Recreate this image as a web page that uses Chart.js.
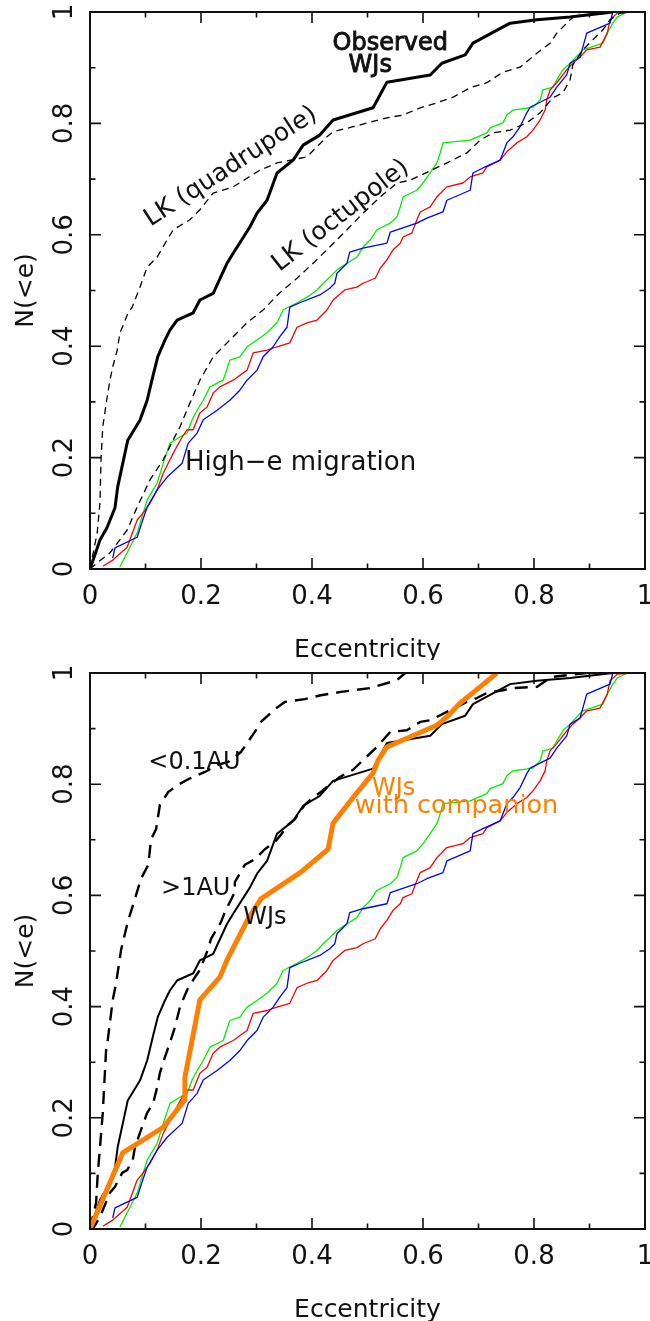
<!DOCTYPE html>
<html>
<head>
<meta charset="utf-8">
<script src="https://cdn.jsdelivr.net/npm/chart.js@4.4.0/dist/chart.umd.min.js"></script>
<style>
  html, body { margin: 0; padding: 0; background: #fff; }
  #wrap { position: relative; width: 650px; height: 1321px; overflow: hidden; }
  canvas { position: absolute; left: 0; }
</style>
</head>
<body>
<div id="wrap">
  <canvas id="topChart" width="650" height="660" style="top:0px"></canvas>
  <canvas id="bottomChart" width="650" height="661" style="top:660px"></canvas>
</div>
<script>
// ticks
const tickValues = [0, 0.1, 0.2, 0.3, 0.4, 0.5, 0.6, 0.7, 0.8, 0.9, 1];
const majorValues = [0, 0.2, 0.4, 0.6, 0.8, 1];
const tickLabels = ['0', '0.2', '0.4', '0.6', '0.8', '1'];
const xTitle = 'Eccentricity';
const yTitle = 'N(<e)';

// cumulative distributions [e, N(<e)]
const observedWJs = [[0,0],[0.018,0.052],[0.031,0.075],[0.045,0.11],[0.05,0.148],[0.063,0.208],[0.068,0.231],[0.09,0.267],[0.103,0.303],[0.113,0.345],[0.122,0.381],[0.135,0.411],[0.144,0.429],[0.157,0.447],[0.186,0.46],[0.198,0.483],[0.222,0.495],[0.247,0.549],[0.258,0.567],[0.288,0.614],[0.301,0.639],[0.319,0.662],[0.337,0.711],[0.366,0.734],[0.384,0.761],[0.414,0.779],[0.438,0.806],[0.51,0.828],[0.535,0.874],[0.613,0.887],[0.634,0.908],[0.676,0.923],[0.69,0.944],[0.757,0.98],[0.805,0.986],[0.865,0.991],[0.942,1.0]];

const lkQuadrupole = [[0,0],[0.013,0.065],[0.018,0.12],[0.02,0.2],[0.023,0.255],[0.03,0.303],[0.036,0.339],[0.041,0.363],[0.049,0.393],[0.054,0.424],[0.068,0.458],[0.076,0.47],[0.09,0.506],[0.103,0.542],[0.121,0.56],[0.139,0.591],[0.15,0.609],[0.18,0.627],[0.198,0.645],[0.222,0.675],[0.258,0.686],[0.306,0.716],[0.337,0.729],[0.391,0.74],[0.427,0.776],[0.438,0.785],[0.474,0.794],[0.535,0.81],[0.564,0.815],[0.595,0.828],[0.625,0.837],[0.654,0.847],[0.685,0.864],[0.715,0.873],[0.744,0.892],[0.775,0.901],[0.805,0.926],[0.829,0.944],[0.841,0.962],[0.865,0.986],[0.883,1.0]];

const lkOctupole = [[0,0],[0.014,0.012],[0.036,0.029],[0.067,0.07],[0.085,0.111],[0.108,0.16],[0.132,0.196],[0.15,0.232],[0.162,0.255],[0.18,0.298],[0.198,0.339],[0.222,0.381],[0.247,0.406],[0.27,0.429],[0.283,0.442],[0.312,0.465],[0.342,0.496],[0.373,0.522],[0.402,0.549],[0.432,0.578],[0.463,0.609],[0.492,0.639],[0.523,0.668],[0.553,0.693],[0.577,0.698],[0.613,0.715],[0.643,0.729],[0.679,0.747],[0.703,0.77],[0.726,0.783],[0.757,0.788],[0.787,0.801],[0.811,0.819],[0.834,0.846],[0.852,0.855],[0.865,0.878],[0.87,0.905],[0.888,0.932],[0.906,0.95],[0.924,0.968],[0.937,0.986],[0.955,0.998],[0.98,1.0]];

const highEGreen = [[0.054,0.004],[0.072,0.039],[0.085,0.065],[0.103,0.124],[0.121,0.154],[0.132,0.19],[0.144,0.226],[0.162,0.237],[0.175,0.244],[0.184,0.268],[0.193,0.285],[0.204,0.303],[0.216,0.327],[0.24,0.339],[0.252,0.375],[0.27,0.381],[0.283,0.399],[0.301,0.411],[0.319,0.424],[0.337,0.442],[0.348,0.465],[0.373,0.478],[0.391,0.488],[0.409,0.501],[0.42,0.513],[0.432,0.524],[0.445,0.537],[0.463,0.549],[0.481,0.56],[0.492,0.578],[0.505,0.591],[0.517,0.609],[0.541,0.621],[0.553,0.632],[0.559,0.65],[0.564,0.668],[0.589,0.68],[0.6,0.693],[0.613,0.711],[0.625,0.729],[0.631,0.747],[0.636,0.765],[0.685,0.77],[0.715,0.783],[0.721,0.792],[0.744,0.801],[0.751,0.815],[0.762,0.824],[0.798,0.829],[0.811,0.842],[0.816,0.86],[0.834,0.865],[0.841,0.878],[0.852,0.896],[0.865,0.908],[0.888,0.932],[0.924,0.944],[0.932,0.962],[0.942,0.98],[0.95,0.991],[0.968,1.0]];

const highERed = [[0.023,0.005],[0.041,0.016],[0.067,0.039],[0.085,0.088],[0.095,0.1],[0.108,0.118],[0.121,0.142],[0.132,0.172],[0.15,0.208],[0.166,0.237],[0.175,0.25],[0.186,0.25],[0.198,0.28],[0.211,0.291],[0.222,0.316],[0.234,0.327],[0.258,0.339],[0.283,0.357],[0.294,0.388],[0.319,0.393],[0.337,0.399],[0.36,0.406],[0.373,0.434],[0.391,0.442],[0.409,0.447],[0.427,0.465],[0.438,0.483],[0.459,0.501],[0.481,0.506],[0.492,0.513],[0.514,0.522],[0.523,0.54],[0.535,0.555],[0.546,0.573],[0.559,0.585],[0.564,0.596],[0.58,0.603],[0.589,0.627],[0.595,0.641],[0.613,0.65],[0.625,0.668],[0.643,0.686],[0.672,0.693],[0.685,0.704],[0.708,0.711],[0.715,0.722],[0.739,0.734],[0.751,0.749],[0.769,0.765],[0.787,0.776],[0.798,0.788],[0.811,0.806],[0.82,0.824],[0.823,0.842],[0.829,0.86],[0.841,0.873],[0.859,0.896],[0.87,0.908],[0.883,0.919],[0.895,0.932],[0.919,0.937],[0.932,0.962],[0.937,0.986],[0.95,0.998],[0.978,1.0]];

const highEBlue = [[0.041,0.02],[0.045,0.038],[0.085,0.057],[0.095,0.088],[0.103,0.111],[0.121,0.142],[0.139,0.165],[0.166,0.19],[0.177,0.226],[0.193,0.244],[0.204,0.268],[0.229,0.285],[0.252,0.303],[0.27,0.321],[0.283,0.339],[0.301,0.357],[0.312,0.381],[0.33,0.399],[0.342,0.417],[0.355,0.434],[0.36,0.47],[0.378,0.478],[0.414,0.492],[0.432,0.504],[0.441,0.513],[0.445,0.531],[0.463,0.549],[0.468,0.569],[0.492,0.576],[0.535,0.585],[0.541,0.605],[0.589,0.621],[0.607,0.63],[0.636,0.641],[0.643,0.662],[0.685,0.68],[0.69,0.711],[0.708,0.72],[0.739,0.734],[0.751,0.765],[0.762,0.776],[0.775,0.794],[0.787,0.819],[0.793,0.829],[0.829,0.847],[0.841,0.865],[0.859,0.887],[0.865,0.908],[0.883,0.919],[0.895,0.962],[0.937,0.98],[0.942,1.0]];

const inner01AU = [[0,0],[0.011,0.047],[0.014,0.1],[0.018,0.147],[0.023,0.209],[0.029,0.322],[0.032,0.34],[0.041,0.412],[0.047,0.442],[0.056,0.502],[0.068,0.552],[0.081,0.594],[0.092,0.63],[0.105,0.655],[0.11,0.701],[0.119,0.719],[0.126,0.763],[0.141,0.786],[0.159,0.799],[0.177,0.809],[0.207,0.822],[0.231,0.835],[0.249,0.84],[0.272,0.858],[0.297,0.894],[0.308,0.912],[0.333,0.935],[0.351,0.948],[0.387,0.953],[0.416,0.96],[0.452,0.966],[0.505,0.973],[0.553,0.987],[0.568,1.0]];

const outer1AU = [[0,0],[0.005,0],[0.018,0.022],[0.036,0.065],[0.045,0.076],[0.058,0.101],[0.067,0.106],[0.077,0.124],[0.081,0.147],[0.09,0.173],[0.103,0.209],[0.114,0.227],[0.121,0.255],[0.126,0.281],[0.135,0.309],[0.144,0.335],[0.153,0.363],[0.162,0.399],[0.175,0.43],[0.186,0.448],[0.198,0.466],[0.213,0.504],[0.218,0.522],[0.236,0.552],[0.243,0.57],[0.261,0.606],[0.261,0.624],[0.279,0.655],[0.297,0.665],[0.315,0.683],[0.333,0.696],[0.344,0.709],[0.357,0.727],[0.369,0.737],[0.387,0.763],[0.398,0.773],[0.416,0.786],[0.427,0.795],[0.45,0.813],[0.474,0.826],[0.517,0.867],[0.541,0.894],[0.571,0.897],[0.595,0.912],[0.613,0.915],[0.643,0.93],[0.661,0.939],[0.679,0.948],[0.697,0.955],[0.715,0.964],[0.744,0.969],[0.762,0.973],[0.805,0.975],[0.823,0.987],[0.834,0.993],[0.895,1.0]];

const withCompanion = [[0,0],[0.059,0.137],[0.132,0.183],[0.171,0.232],[0.171,0.273],[0.198,0.412],[0.234,0.453],[0.247,0.484],[0.285,0.558],[0.308,0.594],[0.38,0.642],[0.429,0.683],[0.438,0.73],[0.474,0.776],[0.51,0.82],[0.519,0.843],[0.535,0.867],[0.625,0.906],[0.643,0.921],[0.667,0.946],[0.703,0.975],[0.733,1.0]];

const FONT = '"DejaVu Sans", sans-serif';
const ORANGE = '#ff8000';

function series(points, color, width, dash) {
    return {
        data: points.map(p => ({ x: p[0], y: p[1] })),
        borderColor: color,
        borderWidth: width,
        borderDash: dash || [],
        borderJoinStyle: 'round',
        pointRadius: 0,
        tension: 0,
        fill: false
    };
}

// frame, inward ticks, tick labels, titles and the text notes
const framePlugin = {
    id: 'frame',
    afterDatasetsDraw(chart, args, opts) {
        const { ctx, chartArea: a, scales: { x, y } } = chart;
        ctx.save();
        ctx.strokeStyle = '#111';
        ctx.lineWidth = 2;
        ctx.strokeRect(a.left, a.top, a.right - a.left, a.bottom - a.top);

        ctx.lineWidth = 1.6;
        ctx.beginPath();
        tickValues.forEach(v => {
            const len = majorValues.includes(v) ? 11 : 5.5;
            const px = x.getPixelForValue(v);
            const py = y.getPixelForValue(v);
            ctx.moveTo(px, a.bottom); ctx.lineTo(px, a.bottom - len);
            ctx.moveTo(px, a.top); ctx.lineTo(px, a.top + len);
            ctx.moveTo(a.left, py); ctx.lineTo(a.left + len, py);
            ctx.moveTo(a.right, py); ctx.lineTo(a.right - len, py);
        });
        ctx.stroke();

        ctx.fillStyle = '#111';
        ctx.font = '26px ' + FONT;
        ctx.textAlign = 'center';
        ctx.textBaseline = 'alphabetic';
        majorValues.forEach((v, i) => {
            ctx.fillText(tickLabels[i], x.getPixelForValue(v), a.bottom + 35);
            ctx.save();
            ctx.translate(a.left - 18, y.getPixelForValue(v));
            ctx.rotate(-Math.PI / 2);
            ctx.fillText(tickLabels[i], 0, 0);
            ctx.restore();
        });

        ctx.font = '25px ' + FONT;
        ctx.fillText(xTitle, (a.left + a.right) / 2, a.bottom + 88);
        ctx.save();
        ctx.translate(33, (a.top + a.bottom) / 2);
        ctx.rotate(-Math.PI / 2);
        ctx.fillText(yTitle, 0, 0);
        ctx.restore();

        (opts.notes || []).forEach(n => {
            ctx.save();
            ctx.translate(x.getPixelForValue(n.e), y.getPixelForValue(n.n));
            ctx.rotate((n.rot || 0) * Math.PI / 180);
            ctx.font = (n.size || 24) + 'px ' + FONT;
            ctx.fillStyle = n.color || '#111';
            ctx.textAlign = n.align || 'left';
            ctx.textBaseline = n.rot ? 'middle' : 'alphabetic';
            ctx.fillText(n.text, 0, 0);
            if (n.heavy) {
                ctx.strokeStyle = ctx.fillStyle;
                ctx.lineWidth = 0.9;
                ctx.strokeText(n.text, 0, 0);
            }
            ctx.restore();
        });
        ctx.restore();
    }
};

function makeChart(id, datasets, notes, pad) {
    return new Chart(document.getElementById(id), {
        type: 'line',
        data: { datasets: datasets },
        options: {
            responsive: false,
            animation: false,
            devicePixelRatio: 1,
            layout: { padding: pad },
            plugins: {
                legend: { display: false },
                tooltip: { enabled: false },
                frame: { notes: notes }
            },
            scales: {
                x: { type: 'linear', min: 0, max: 1, display: false },
                y: { type: 'linear', min: 0, max: 1, display: false }
            }
        },
        plugins: [framePlugin]
    });
}

makeChart('topChart', [
    series(observedWJs, '#000', 3),
    series(lkQuadrupole, '#000', 1.3, [7, 5]),
    series(lkOctupole, '#000', 1.3, [7, 5]),
    series(highEBlue, '#0000ff', 1.3),
    series(highERed, '#ff0000', 1.3),
    series(highEGreen, '#00f000', 1.3)
], [
    { text: 'Observed', e: 0.541, n: 0.932, align: 'center', heavy: true },
    { text: 'WJs', e: 0.505, n: 0.892, align: 'center', heavy: true },
    { text: 'LK (quadrupole)', e: 0.254, n: 0.722, rot: -33, align: 'center', size: 25 },
    { text: 'LK (octupole)', e: 0.452, n: 0.634, rot: -38, align: 'center', size: 25 },
    { text: 'High\u2212e migration', e: 0.171, n: 0.178, size: 26 }
], { left: 90, right: 5, top: 12, bottom: 91 });

makeChart('bottomChart', [
    series(withCompanion, ORANGE, 5),
    series(observedWJs, '#000', 2),
    series(inner01AU, '#000', 2.4, [13, 8]),
    series(outer1AU, '#000', 2.4, [13, 8]),
    series(highEBlue, '#0000ff', 1.3),
    series(highERed, '#ff0000', 1.3),
    series(highEGreen, '#00f000', 1.3)
], [
    { text: '<0.1AU', e: 0.105, n: 0.827 },
    { text: '>1AU', e: 0.128, n: 0.601 },
    { text: 'WJs', e: 0.276, n: 0.549 },
    { text: 'WJs', e: 0.508, n: 0.781, color: ORANGE },
    { text: 'with companion', e: 0.477, n: 0.748, color: ORANGE, size: 25.5 }
], { left: 90, right: 5, top: 13, bottom: 92 });
</script>
</body>
</html>
